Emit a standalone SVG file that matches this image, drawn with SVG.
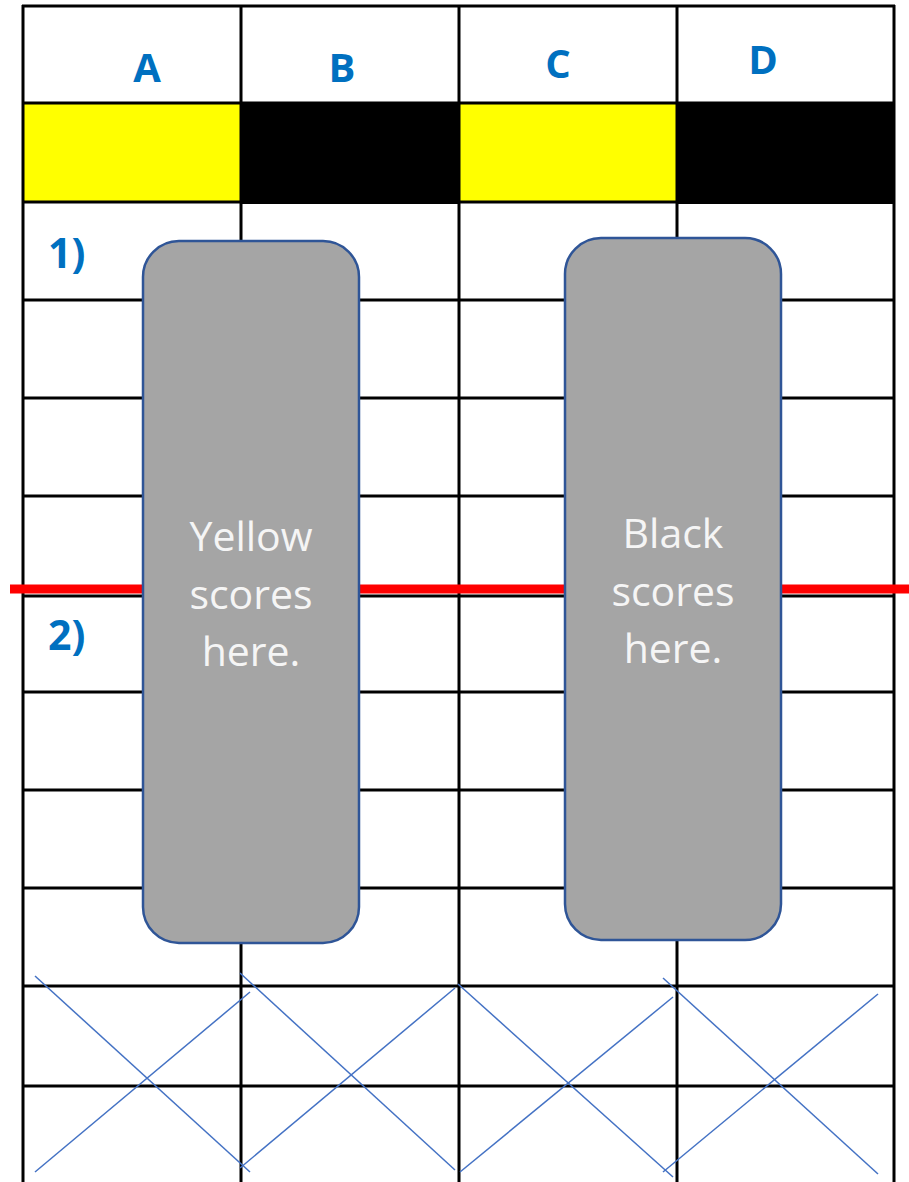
<svg xmlns="http://www.w3.org/2000/svg" width="909" height="1182" viewBox="0 0 909 1182">
<style>
.grid line{stroke:#000;stroke-width:3}
.hdr{font-family:"Open Sans","Liberation Sans",sans-serif;font-weight:bold;font-size:40px;fill:#0070C0;text-anchor:middle}
.num{font-family:"Open Sans","Liberation Sans",sans-serif;font-weight:bold;font-size:41px;fill:#0070C0}
.box{fill:#A5A5A5;stroke:#2F5597;stroke-width:2.5}
.btxt{font-family:"Open Sans","Liberation Sans",sans-serif;font-size:41px;fill:#F5F5F5;text-anchor:middle}
.x line{stroke:#4472C4;stroke-width:1.5}
</style>
<rect width="909" height="1182" fill="#fff"/>
<g id="fills">
<rect x="23" y="103" width="218" height="99" fill="#FFFF00"/>
<rect x="241" y="102" width="218" height="102" fill="#000"/>
<rect x="459" y="103" width="218" height="99" fill="#FFFF00"/>
<rect x="677" y="102" width="218" height="102" fill="#000"/>
</g>
<g id="grid" class="grid">
<line x1="23" y1="5" x2="23" y2="1182"/>
<line x1="241" y1="5" x2="241" y2="1182"/>
<line x1="459" y1="5" x2="459" y2="1182"/>
<line x1="677" y1="5" x2="677" y2="1182"/>
<line x1="894" y1="5" x2="894" y2="1182"/>
<line x1="22" y1="6" x2="895" y2="6"/>
<line x1="22" y1="103" x2="895" y2="103"/>
<line x1="22" y1="202" x2="895" y2="202"/>
<line x1="22" y1="300" x2="895" y2="300"/>
<line x1="22" y1="398" x2="895" y2="398"/>
<line x1="22" y1="496" x2="895" y2="496"/>
<line x1="22" y1="596" x2="895" y2="596"/>
<line x1="22" y1="692" x2="895" y2="692"/>
<line x1="22" y1="790" x2="895" y2="790"/>
<line x1="22" y1="888" x2="895" y2="888"/>
<line x1="22" y1="986" x2="895" y2="986"/>
<line x1="22" y1="1086" x2="895" y2="1086"/>
</g>
<g id="headers">
<text class="hdr" x="147" y="82">A</text>
<text class="hdr" x="342" y="82">B</text>
<text class="hdr" x="558" y="78">C</text>
<text class="hdr" x="763" y="74">D</text>
<text class="num" x="48" y="268">1)</text>
<text class="num" x="48" y="650">2)</text>
</g>
<g id="redline">
<line x1="10" y1="589" x2="909" y2="589" stroke="#FF0000" stroke-width="9"/>
</g>
<g id="crosses" class="x">
<line x1="35" y1="976" x2="250" y2="1172"/>
<line x1="35" y1="1172" x2="250" y2="992"/>
<line x1="240" y1="973" x2="455" y2="1170"/>
<line x1="240" y1="1168" x2="455" y2="988"/>
<line x1="458" y1="984" x2="673" y2="1177"/>
<line x1="460" y1="1172" x2="673" y2="997"/>
<line x1="663" y1="978" x2="878" y2="1174"/>
<line x1="663" y1="1172" x2="878" y2="994"/>
</g>
<g id="yellow-box">
<rect class="box" x="143" y="241" width="216" height="702" rx="36"/>
<text class="btxt" x="251" y="551">Yellow</text>
<text class="btxt" x="251" y="609">scores</text>
<text class="btxt" x="251" y="666">here.</text>
</g>
<g id="black-box">
<rect class="box" x="565" y="238" width="216" height="702" rx="36"/>
<text class="btxt" x="673" y="548">Black</text>
<text class="btxt" x="673" y="606">scores</text>
<text class="btxt" x="673" y="663">here.</text>
</g>
</svg>
